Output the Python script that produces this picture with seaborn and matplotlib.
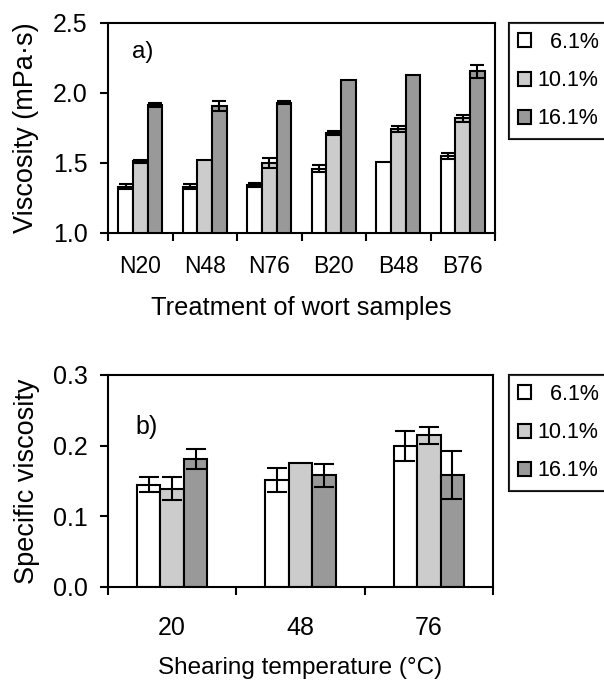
import numpy as np
import pandas as pd
import matplotlib
matplotlib.use("Agg")
import matplotlib.pyplot as plt
from matplotlib.patches import Patch
import seaborn as sns

# ---------------- data ----------------
treatments = ["N20", "N48", "N76", "B20", "B48", "B76"]
concentrations = ["6.1%", "10.1%", "16.1%"]

visc_6 = [1.33, 1.33, 1.34, 1.46, 1.51, 1.55]
visc_6_err = [0.018, 0.018, 0.015, 0.024, 0.0, 0.022]
visc_10 = [1.512, 1.52, 1.50, 1.715, 1.745, 1.82]
visc_10_err = [0.012, 0.0, 0.035, 0.012, 0.022, 0.024]
visc_16 = [1.915, 1.905, 1.93, 2.09, 2.13, 2.155]
visc_16_err = [0.012, 0.035, 0.012, 0.0, 0.0, 0.045]

temperatures = ["20", "48", "76"]
spec_6 = [0.145, 0.152, 0.200]
spec_6_err = [0.010, 0.017, 0.021]
spec_10 = [0.139, 0.175, 0.215]
spec_10_err = [0.016, 0.0, 0.012]
spec_16 = [0.181, 0.158, 0.158]
spec_16_err = [0.014, 0.016, 0.034]

colors = ["#FFFFFF", "#CCCCCC", "#999999"]

# ---------------- style ----------------
sns.set_theme(style="ticks")
plt.rcParams["font.family"] = ["Liberation Sans", "DejaVu Sans"]
plt.rcParams["font.size"] = 17
for k in ("text.color", "axes.labelcolor", "xtick.color", "ytick.color",
          "xtick.labelcolor", "ytick.labelcolor"):
    plt.rcParams[k] = "black"

fig = plt.figure(figsize=(6.04, 6.82), dpi=100)
W, H = 604, 682


def axes_px(l, t, r, b):
    return fig.add_axes([l / W, 1 - b / H, (r - l) / W, (b - t) / H])


ax1 = axes_px(108, 23, 495, 233)
ax2 = axes_px(108, 375, 493, 587)


def long_df(cats, series, errs):
    rows = []
    for c, vals, es in zip(concentrations, series, errs):
        for cat, v, e in zip(cats, vals, es):
            rows.append({"cat": cat, "conc": c, "val": v, "err": e})
    return pd.DataFrame(rows)


def draw(ax, df, cats, width, capsize, ylim, yticks, xfs, yfs, xpad):
    sns.barplot(data=df, x="cat", y="val", hue="conc", order=cats,
                hue_order=concentrations, palette=colors, width=width,
                edgecolor="black", linewidth=1.5, errorbar=None,
                legend=False, ax=ax, saturation=1)
    for cont, c in zip(ax.containers, concentrations):
        sub = df[df["conc"] == c].set_index("cat").loc[cats]
        for bar, (_, row) in zip(cont.patches, sub.iterrows()):
            if row["err"] > 0:
                xc = bar.get_x() + bar.get_width() / 2
                ax.errorbar(xc, row["val"], yerr=row["err"], fmt="none",
                            ecolor="black", elinewidth=1.5, capsize=capsize,
                            capthick=1.5, zorder=5)
    n = len(cats)
    ax.set_xlim(-0.5, n - 0.5)
    ax.set_ylim(*ylim)
    ax.set_yticks(yticks)
    ax.set_yticklabels(["{:.1f}".format(v) for v in yticks])
    ax.set_xticks(np.arange(n + 1) - 0.5)
    ax.set_xticklabels([""] * (n + 1))
    ax.set_xticks(np.arange(n), minor=True)
    ax.set_xticklabels(cats, minor=True)
    ax.tick_params(axis="x", which="major", direction="out", length=6,
                   width=1.5, color="black")
    ax.tick_params(axis="x", which="minor", length=0, labelsize=xfs, pad=xpad,
                   labelcolor="black")
    ax.tick_params(axis="y", direction="out", length=6, width=1.5,
                   color="black", labelsize=yfs, pad=8.5, labelcolor="black")
    for s in ax.spines.values():
        s.set_visible(True)
        s.set_linewidth(1.5)
        s.set_color("black")
    ax.set_facecolor("white")


df1 = long_df(treatments, [visc_6, visc_10, visc_16],
              [visc_6_err, visc_10_err, visc_16_err])
draw(ax1, df1, treatments, 0.68, 5, (1.0, 2.5), [1.0, 1.5, 2.0, 2.5],
     16.5, 18, 16)
ax1.set_ylabel("Viscosity (mPa·s)", fontsize=19.5, color="black")
ax1.set_xlabel("Treatment of wort samples", fontsize=18.3, color="black")
ax1.yaxis.set_label_coords(-0.212, 0.5)
ax1.xaxis.set_label_coords(0.5, -0.357)
ax1.xaxis.label.set_va("center")
ax1.yaxis.label.set_va("center")
ax1.text(0.09, 0.862, "a)", transform=ax1.transAxes, fontsize=17.5,
         ha="center", va="center", color="black")

df2 = long_df(temperatures, [spec_6, spec_10, spec_16],
              [spec_6_err, spec_10_err, spec_16_err])
draw(ax2, df2, temperatures, 0.55, 7, (0.0, 0.3), [0.0, 0.1, 0.2, 0.3],
     18, 18, 21)
ax2.set_ylabel("Specific viscosity", fontsize=19.5, color="black")
ax2.set_xlabel("Shearing temperature (°C)", fontsize=17.5, color="black")
ax2.yaxis.set_label_coords(-0.21, 0.5)
ax2.xaxis.set_label_coords(0.5, -0.383)
ax2.xaxis.label.set_va("center")
ax2.yaxis.label.set_va("center")
ax2.text(0.099, 0.755, "b)", transform=ax2.transAxes, fontsize=18,
         ha="center", va="center", color="black")

handles = [Patch(facecolor=c, edgecolor="black", linewidth=1.5) for c in colors]
labels = ["  6.1%", "10.1%", "16.1%"]
for top in (23, 375):
    leg = fig.legend(handles, labels, loc="upper left",
                     bbox_to_anchor=(509 / W, 1 - top / H),
                     bbox_transform=fig.transFigure,
                     fontsize=15.5, frameon=True, fancybox=False,
                     handlelength=0.62, handleheight=0.62,
                     handletextpad=0.3, labelspacing=0.8,
                     borderpad=0.42, borderaxespad=0)
    leg.get_frame().set_edgecolor("black")
    leg.get_frame().set_linewidth(1.5)
    leg.get_frame().set_facecolor("white")
    for t in leg.get_texts():
        t.set_color("black")
    fig.add_artist(leg)

fig.savefig("out.png", dpi=100, facecolor="white")
